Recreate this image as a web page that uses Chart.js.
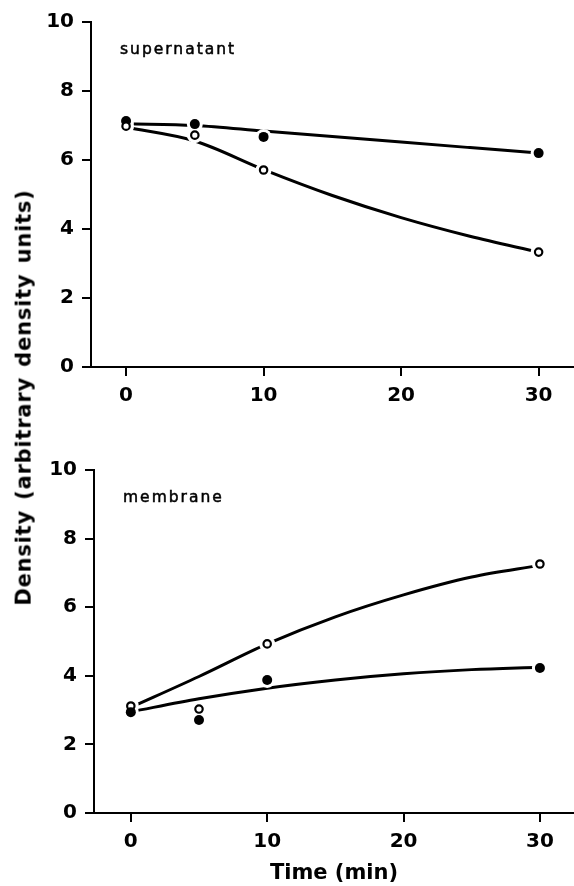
<!DOCTYPE html>
<html><head><meta charset="utf-8">
<script src="https://cdn.jsdelivr.net/npm/chart.js@4.4.1/dist/chart.umd.min.js"></script>
<style>
html,body{margin:0;padding:0;background:#fff;}
body{width:574px;height:886px;overflow:hidden;position:relative;font-family:"DejaVu Sans",sans-serif;color:#000;}
canvas{position:absolute;left:0;}
.lbl{position:absolute;font-family:"DejaVu Sans",sans-serif;font-weight:normal;font-size:15.5px;line-height:15.5px;letter-spacing:2px;white-space:nowrap;-webkit-text-stroke:0.5px #000;}
#ytitle{position:absolute;font-family:"DejaVu Sans",sans-serif;font-weight:bold;font-size:21px;line-height:21px;letter-spacing:0.8px;word-spacing:2px;white-space:nowrap;transform-origin:center center;}
</style></head>
<body>
<canvas id="c1" width="574" height="420" style="top:0"></canvas>
<canvas id="c2" width="574" height="456" style="top:430px"></canvas>
<div class="lbl" style="left:120px;top:42px">supernatant</div>
<div class="lbl" style="left:123px;top:490px">membrane</div>
<div id="ytitle">Density (arbitrary density units)</div>
<script>
// ---- data ----
const times = [0, 5, 10, 30];
const supFilled = [7.13, 7.04, 6.67, 6.2];
const supOpen = [6.98, 6.72, 5.71, 3.33];
const memFilled = [2.94, 2.71, 3.88, 4.23];
const memOpen = [3.12, 3.03, 4.93, 7.26];
// fitted curves as drawn in the reference
const fitTimes = [0, 5, 10, 15, 20, 25, 30];
const supFilledFit = [7.05, 7.0, 6.84, 6.68, 6.52, 6.36, 6.2];
const supOpenFit = [6.95, 6.55, 5.72, 4.97, 4.33, 3.79, 3.33];
const memFilledFit = [2.95, 3.33, 3.64, 3.88, 4.06, 4.18, 4.25];
const memOpenFit = [3.08, 3.98, 4.93, 5.72, 6.36, 6.88, 7.22];
const xTicks = [0, 10, 20, 30];
const yTicks = [0, 2, 4, 6, 8, 10];

const pts = (xs, ys) => xs.map((x, i) => ({x, y: ys[i]}));
const tickFont = {family: 'DejaVu Sans', weight: 'bold', size: 20};

function makeChart(id, filled, open, filledFit, openFit, yW, xH, pad, xMin, openOnTop, xTitle) {
  const ds = [
    {data: pts(times, open), showLine: false, pointRadius: 3.7, pointBorderWidth: 2.2, pointBackgroundColor: '#fff', pointBorderColor: '#000', order: openOnTop ? 0 : 1},
    {data: pts(times, filled), showLine: false, pointRadius: 5, pointBorderWidth: 0, pointBackgroundColor: '#000', pointBorderColor: '#000', order: openOnTop ? 1 : 0},
    // white halos: gaps in the fitted lines around every symbol
    {data: pts(times, open), showLine: false, pointRadius: 8, pointBorderWidth: 0, pointBackgroundColor: '#fff', pointBorderColor: '#fff', order: 2},
    {data: pts(times, filled), showLine: false, pointRadius: 8, pointBorderWidth: 0, pointBackgroundColor: '#fff', pointBorderColor: '#fff', order: 2},
    {data: pts(fitTimes, filledFit), borderColor: '#000', borderWidth: 3, pointRadius: 0, cubicInterpolationMode: 'monotone', fill: false, order: 3},
    {data: pts(fitTimes, openFit), borderColor: '#000', borderWidth: 3, pointRadius: 0, cubicInterpolationMode: 'monotone', fill: false, order: 3}
  ];
  return new Chart(document.getElementById(id), {
    type: 'line',
    data: {datasets: ds},
    options: {
      responsive: false, animation: false, devicePixelRatio: 1,
      layout: {padding: pad, autoPadding: false},
      plugins: {legend: {display: false}, tooltip: {enabled: false}},
      scales: {
        x: {
          type: 'linear', min: xMin, max: 32.5,
          afterBuildTicks: s => { s.ticks = xTicks.map(v => ({value: v})); },
          afterFit: s => { s.height = xH; },
          border: {display: true, color: '#000', width: 2},
          grid: {display: true, drawOnChartArea: false, drawTicks: true, tickLength: 9, color: '#000', lineWidth: 2},
          ticks: {color: '#000', font: tickFont, padding: 8, maxRotation: 0},
          title: xTitle ? {display: true, text: 'Time (min)', color: '#000', font: {family: 'DejaVu Sans', weight: 'bold', size: 21}, padding: {top: 9, bottom: 0}} : {display: false}
        },
        y: {
          min: 0, max: 10,
          afterBuildTicks: s => { s.ticks = yTicks.map(v => ({value: v})); },
          afterFit: s => { s.width = yW; },
          border: {display: true, color: '#000', width: 2},
          grid: {display: true, drawOnChartArea: false, drawTicks: true, tickLength: 9, color: '#000', lineWidth: 2},
          ticks: {color: '#000', font: tickFont, padding: 8}
        }
      }
    }
  });
}

makeChart('c1', supFilled, supOpen, supFilledFit, supOpenFit, 91, 53, {top: 22, right: 1, left: 0, bottom: 0}, -2.55, true, false);
makeChart('c2', memFilled, memOpen, memFilledFit, memOpenFit, 94, 73, {top: 40, right: 0, left: 0, bottom: 0}, -2.7, false, true);

// rotated shared y title
const yt = document.getElementById('ytitle');
const w = yt.offsetWidth, h = yt.offsetHeight;
yt.style.left = (24 - w / 2) + 'px';
yt.style.top = (397 - h / 2) + 'px';
yt.style.transform = 'rotate(-90deg)';
</script>
</body></html>
